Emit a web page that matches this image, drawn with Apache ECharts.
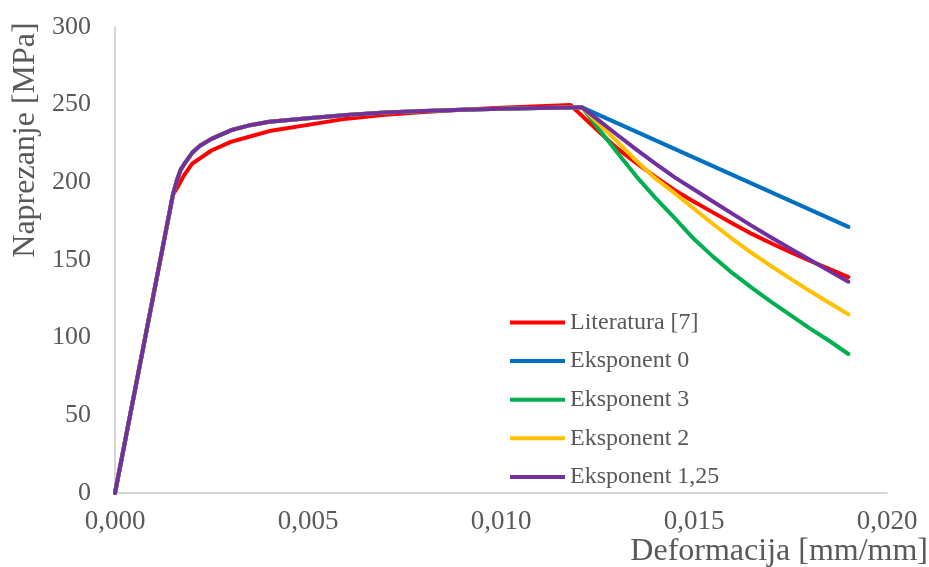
<!DOCTYPE html>
<html>
<head>
<meta charset="utf-8">
<script src="https://cdn.jsdelivr.net/npm/echarts@6/dist/echarts.min.js"></script>
<style>
html,body{margin:0;padding:0;background:#fff;}
#chart{width:929px;height:567px;}
</style>
</head>
<body>
<div id="chart"></div>
<script>
// ---- data (strain [mm/mm], stress [MPa]) ----
const seriesNames = ['Literatura [7]', 'Eksponent 0', 'Eksponent 3', 'Eksponent 2', 'Eksponent 1,25'];
const seriesColors = ['#FF0000', '#0070C0', '#00B050', '#FFC000', '#7030A0'];

const literatura = [
  [0,0],[0.0015,192],[0.0016,196],[0.0018,205],[0.002,212],[0.0025,220.5],[0.003,226],
  [0.0035,229.5],[0.004,233],[0.005,237],[0.006,241],[0.007,243.5],[0.008,245.3],
  [0.009,246.8],[0.010,248],[0.011,249],[0.0115,249.5],[0.0118,249.8],
  [0.0122,240.5],[0.0125,233.5],[0.013,222],[0.0135,212.5],[0.014,203.5],[0.0145,195],
  [0.015,187.5],[0.0155,180.5],[0.016,173.5],[0.0165,166.8],[0.017,160.8],[0.0175,155],
  [0.018,149.5],[0.0185,144.3],[0.019,139]
];

// common hardening branch of the model curves
const modelRise = [
  [0,0],[0.0015,192],[0.0016,201],[0.0017,208],[0.0018,212],[0.002,219],[0.0022,223.5],
  [0.0025,228],[0.003,233.5],[0.0035,236.8],[0.004,239],[0.005,241.2],[0.006,243.3],
  [0.007,245],[0.008,246],[0.009,246.8],[0.010,247.4],[0.011,247.9],[0.0118,248.2],[0.0121,248.3]
];

const eksponent0Drop = [[0.019,171.3]];
const eksponent3Drop = [
  [0.0125,235.5],[0.013,219.5],[0.0135,204],[0.014,190],[0.0145,177],[0.015,163.5],
  [0.0155,152],[0.016,141.5],[0.0165,132],[0.017,123],[0.0175,114.5],[0.018,106],
  [0.0185,98],[0.019,89.5]
];
const eksponent2Drop = [
  [0.0125,238.5],[0.013,226.5],[0.0135,214],[0.014,202.5],[0.0145,193],[0.015,183],
  [0.0155,173],[0.016,163.5],[0.0165,154.5],[0.017,146],[0.0175,138],[0.018,130],
  [0.0185,122.5],[0.019,115]
];
const eksponent125Drop = [
  [0.0125,240.5],[0.013,230.8],[0.0135,221.2],[0.014,212],[0.0145,203.2],[0.015,195.4],
  [0.0155,187.5],[0.016,179.7],[0.0165,172],[0.017,164.5],[0.0175,157.2],[0.018,150.2],
  [0.0185,143],[0.019,136]
];

const xTickLabels = ['0,000', '0,005', '0,010', '0,015', '0,020'];
const yTickLabels = ['0', '50', '100', '150', '200', '250', '300'];

const seriesData = [
  literatura,
  modelRise.concat(eksponent0Drop),
  modelRise.concat(eksponent3Drop),
  modelRise.concat(eksponent2Drop),
  modelRise.concat(eksponent125Drop)
];

// ---- chart ----
const FONT = '"Liberation Serif", "Times New Roman", serif';
const TXT = '#595959';
const chart = echarts.init(document.getElementById('chart'), null, {renderer: 'canvas'});

chart.setOption({
  backgroundColor: '#ffffff',
  animation: false,
  grid: {left: 115, right: 42, top: 27, bottom: 74, containLabel: false},
  xAxis: {
    type: 'value', min: 0, max: 0.02, interval: 0.005,
    axisLine: {show: true, lineStyle: {color: '#c9c9c9', width: 1.5}},
    axisTick: {show: false},
    splitLine: {show: false},
    axisLabel: {
      color: TXT, fontFamily: FONT, fontSize: 27, margin: 15,
      formatter: function (v) { return xTickLabels[Math.round(v / 0.005)]; }
    }
  },
  yAxis: {
    type: 'value', min: 0, max: 300, interval: 50,
    axisLine: {show: true, lineStyle: {color: '#c9c9c9', width: 1.5}},
    axisTick: {show: false},
    splitLine: {show: false},
    axisLabel: {
      color: TXT, fontFamily: FONT, fontSize: 26, margin: 24,
      formatter: function (v) { return yTickLabels[Math.round(v / 50)]; }
    }
  },
  legend: {
    orient: 'vertical', left: 510, top: 310.5, padding: 0,
    icon: 'rect', itemWidth: 55, itemHeight: 4, itemGap: 14.6,
    textStyle: {color: TXT, fontFamily: FONT, fontSize: 24, lineHeight: 24},
    data: seriesNames
  },
  graphic: [
    {type: 'text', x: 928, y: 551.5,
     style: {text: 'Deformacija [mm/mm]', fill: TXT, font: '32px ' + FONT, textAlign: 'right', textVerticalAlign: 'middle'}},
    {type: 'text', x: 26, y: 140, rotation: Math.PI / 2,
     style: {text: 'Naprezanje [MPa]', fill: TXT, font: '32px ' + FONT, textAlign: 'center', textVerticalAlign: 'middle'}}
  ],
  series: seriesNames.map(function (name, i) {
    return {
      name: name, type: 'line', data: seriesData[i],
      symbol: 'none', smooth: false,
      color: seriesColors[i],
      lineStyle: {color: seriesColors[i], width: 4, cap: 'round', join: 'round'},
      z: 2 + i
    };
  })
});
</script>
</body>
</html>
